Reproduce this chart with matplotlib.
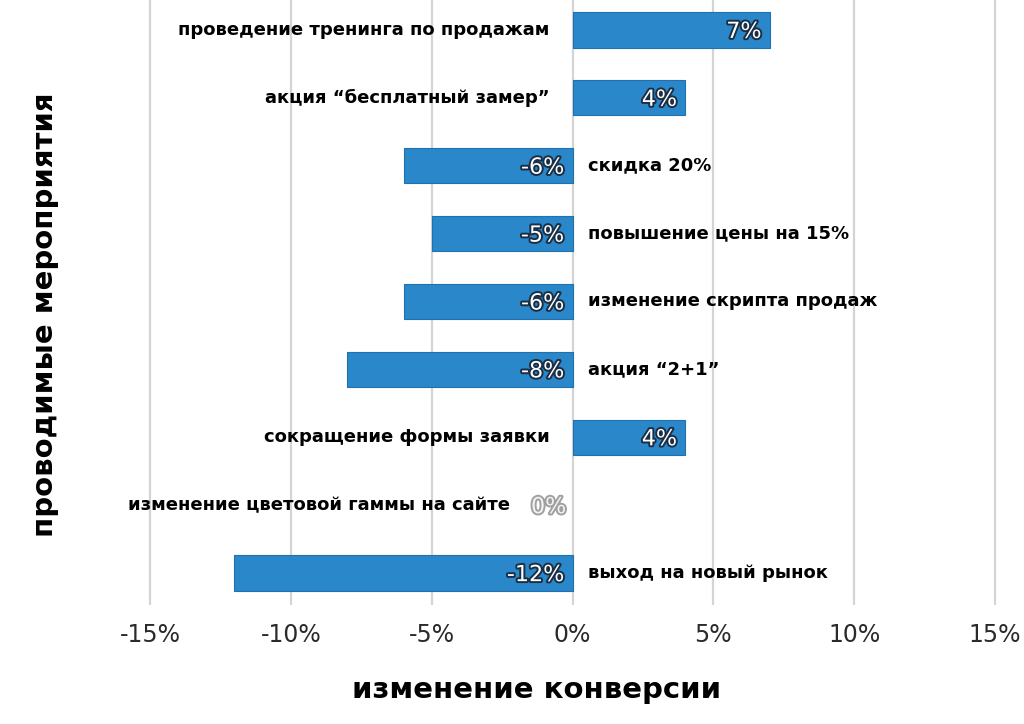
import matplotlib
matplotlib.use("Agg")
import matplotlib.pyplot as plt
import matplotlib.patheffects as pe

categories = [
    "проведение тренинга по продажам",
    "акция “бесплатный замер”",
    "скидка 20%",
    "повышение цены на 15%",
    "изменение скрипта продаж",
    "акция “2+1”",
    "сокращение формы заявки",
    "изменение цветовой гаммы на сайте",
    "выход на новый рынок",
]
values = [7, 4, -6, -5, -6, -8, 4, 0, -12]
xticks = [-15, -10, -5, 0, 5, 10, 15]
xtick_labels = ["-15%", "-10%", "-5%", "0%", "5%", "10%", "15%"]

W, H = 1024, 724
fig = plt.figure(figsize=(W / 100, H / 100), dpi=100)
unit = (995 - 150) / 30.0
x0 = 150 - 0.3 * unit
x1 = 995 + 0.3 * unit
ax = fig.add_axes([x0 / W, (H - 605) / H, (x1 - x0) / W, 605 / H])
ax.set_xlim(-15.3, 15.3)
ax.set_ylim(8.47, -0.44)

bar_color = "#2a87c9"
ypos = list(range(len(categories)))
widths = [0.8 if v != 0 else 0.0 for v in values]
ax.barh(ypos, values, height=0.52, color=bar_color, edgecolor="#1f72ad",
        linewidth=widths, zorder=2)

for x in xticks:
    ax.axvline(x, color="#d4d4d4", linewidth=1.6, zorder=1)

ax.set_xticks(xticks)
ax.set_xticklabels(xtick_labels, fontsize=17, family="DejaVu Sans", color="#2a2a2a")
ax.tick_params(axis="x", length=0, pad=13)
ax.set_yticks([])
for s in ax.spines.values():
    s.set_visible(False)

cat_font = dict(family=["DejaVu Sans"], fontweight="bold", fontsize=13, color="black")
val_font = dict(family="DejaVu Sans", fontsize=16, color="white")
val_fx = [pe.withStroke(linewidth=2.8, foreground="#1a2f45")]

for y, v, c in zip(ypos, values, categories):
    if v > 0:
        ax.text(-23 / unit, y, c, ha="right", va="center", zorder=4, **cat_font)
        ax.text(v - 8 / unit, y + 0.03, f"{v}%", ha="right", va="center", zorder=4,
                path_effects=val_fx, **val_font)
    elif v < 0:
        ax.text(15 / unit, y, c, ha="left", va="center", zorder=4, **cat_font)
        ax.text(-8 / unit, y + 0.03, f"{v}%", ha="right", va="center", zorder=4,
                path_effects=val_fx, **val_font)
    else:
        ax.text(-62 / unit, y, c, ha="right", va="center", zorder=4, **cat_font)
        ax.text(-6 / unit, y + 0.03, f"{v}%", ha="right", va="center", zorder=4,
                family="DejaVu Sans", fontsize=16, color="#f2f2f2",
                path_effects=[pe.withStroke(linewidth=2.8, foreground="#a0a0a0")])

fig.text(537 / W, 1 - 690 / H, "изменение конверсии", ha="center", va="center",
         family="DejaVu Sans", fontweight="bold", fontsize=21)
fig.text(45 / W, 1 - 315 / H, "проводимые мероприятия", ha="center", va="center",
         rotation=90, family="DejaVu Sans", fontweight="bold", fontsize=21)

fig.savefig("out.png", dpi=100)
